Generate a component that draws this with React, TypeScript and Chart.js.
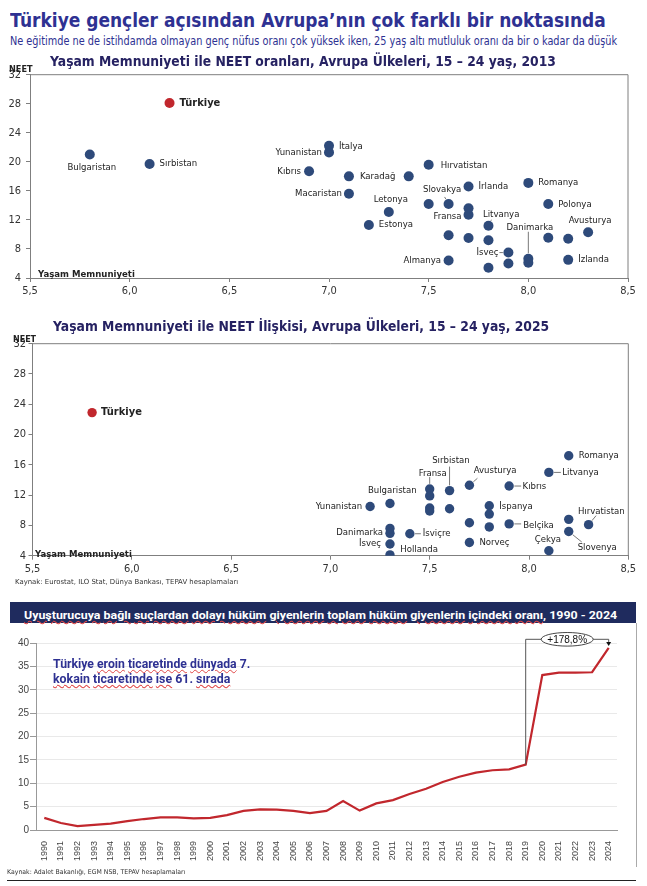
import React, { useEffect, useLayoutEffect, useRef, useState } from 'react';
import { Chart, registerables } from 'chart.js';
Chart.register(...registerables);

// ---------- DATA ----------
const names2013 = ['Türkiye', 'Bulgaristan', 'Sırbistan', 'Kıbrıs', 'Yunanistan', 'İtalya', 'Macaristan', 'Karadağ', '', 'Hırvatistan', 'Letonya', 'Estonya', '', 'Slovakya', 'İrlanda', 'Romanya', 'Polonya', 'Fransa', '', 'Litvanya', 'Avusturya', 'Danimarka', '', '', '', '', '', '', 'İsveç', '', 'Almanya', '', 'İzlanda'];
const satisfaction2013 = [6.2, 5.8, 6.1, 6.9, 7.0, 7.0, 7.1, 7.1, 7.4, 7.5, 7.3, 7.2, 7.5, 7.6, 7.7, 8.0, 8.1, 7.7, 7.7, 7.8, 8.3, 8.0, 8.0, 8.1, 8.2, 7.6, 7.7, 7.8, 7.9, 7.9, 7.6, 7.8, 8.2];
const neet2013 = [28.1, 21.0, 19.7, 18.7, 21.3, 22.2, 15.6, 18.0, 18.0, 19.6, 13.1, 11.3, 14.2, 14.2, 16.6, 17.1, 14.2, 12.7, 13.6, 11.2, 10.3, 6.65, 6.1, 9.55, 9.4, 9.9, 9.5, 9.2, 7.5, 6.0, 6.4, 5.4, 6.5];

const names2025 = ['Türkiye', 'Yunanistan', 'Bulgaristan', 'Fransa', '', '', '', 'Sırbistan', '', 'Avusturya', 'Kıbrıs', 'Romanya', 'Litvanya', 'İspanya', '', '', '', 'Belçika', 'Hırvatistan', '', 'Slovenya', 'Çekya', 'Norveç', 'İsviçre', 'Danimarka', '', 'İsveç', 'Hollanda'];
const satisfaction2025 = [5.8, 7.2, 7.3, 7.5, 7.5, 7.5, 7.5, 7.6, 7.6, 7.7, 7.9, 8.2, 8.1, 7.8, 7.8, 7.7, 7.8, 7.9, 8.3, 8.2, 8.2, 8.1, 7.7, 7.4, 7.3, 7.3, 7.3, 7.3];
const neet2025 = [22.9, 10.5, 10.9, 12.8, 11.9, 10.3, 9.9, 12.6, 10.2, 13.3, 13.2, 17.2, 15.0, 10.6, 9.5, 8.35, 7.8, 8.2, 8.1, 8.8, 7.2, 4.65, 5.75, 6.9, 6.95, 7.6, 5.55, 4.1];

const years = ['1990', '1991', '1992', '1993', '1994', '1995', '1996', '1997', '1998', '1999', '2000', '2001', '2002', '2003', '2004', '2005', '2006', '2007', '2008', '2009', '2010', '2011', '2012', '2013', '2014', '2015', '2016', '2017', '2018', '2019', '2020', '2021', '2022', '2023', '2024'];
const drugShare = [2.6, 1.5, 0.85, 1.1, 1.35, 1.9, 2.35, 2.7, 2.7, 2.5, 2.6, 3.2, 4.1, 4.4, 4.35, 4.1, 3.6, 4.1, 6.2, 4.15, 5.7, 6.4, 7.7, 8.85, 10.3, 11.4, 12.3, 12.8, 13.0, 14.0, 33.2, 33.7, 33.7, 33.8, 39.0];
const bracketFrom = '2019';
const bracketTo = '2024';
const bracketLabel = '+178,8%';
const HIGHLIGHT = 'Türkiye';

// ---------- LABEL LAYOUT (pixel offsets from each point) ----------
type P = { a: 'l' | 'r' | 'c'; dx: number; dy: number; lx?: number; ly?: number } | null;
const place2013: P[] = [
  { a: 'r', dx: 10, dy: 0 },
  { a: 'c', dx: 2, dy: 12.7 },
  { a: 'r', dx: 10, dy: 0 },
  { a: 'l', dx: -8, dy: 0 },
  { a: 'l', dx: -7, dy: 0.6 },
  { a: 'r', dx: 10, dy: 1 },
  { a: 'l', dx: -7, dy: 0 },
  { a: 'r', dx: 11, dy: 0 },
  null,
  { a: 'r', dx: 12, dy: 1 },
  { a: 'c', dx: 2, dy: -12 },
  { a: 'r', dx: 10, dy: 0 },
  null,
  { a: 'c', dx: -6.5, dy: -14, lx: -4, ly: -7 },
  { a: 'r', dx: 10, dy: 0 },
  { a: 'r', dx: 10, dy: 0 },
  { a: 'r', dx: 10, dy: 0.5 },
  { a: 'l', dx: -7, dy: 2 },
  null,
  { a: 'c', dx: 12.7, dy: -11, lx: 3, ly: -6 },
  { a: 'c', dx: 2, dy: -11.6 },
  { a: 'c', dx: 1.5, dy: -31.4, lx: 0, ly: -27 },
  null, null, null, null, null, null,
  { a: 'l', dx: -10, dy: 0, lx: -9, ly: 0 },
  null,
  { a: 'l', dx: -7.6, dy: 0 },
  null,
  { a: 'r', dx: 10, dy: 0 },
];
const place2025: P[] = [
  { a: 'r', dx: 9, dy: 0 },
  { a: 'l', dx: -8, dy: 0 },
  { a: 'c', dx: 2.3, dy: -13.3 },
  { a: 'c', dx: 3, dy: -16, lx: 0, ly: -12 },
  null, null, null,
  { a: 'c', dx: 1.4, dy: -29.6, lx: 0, ly: -24 },
  null,
  { a: 'c', dx: 25.7, dy: -14.3, lx: 8, ly: -7 },
  { a: 'r', dx: 13.4, dy: 0, lx: 12, ly: 0 },
  { a: 'r', dx: 10, dy: 0 },
  { a: 'r', dx: 13.4, dy: 0.5, lx: 12, ly: 0 },
  { a: 'r', dx: 10, dy: 1 },
  null, null, null,
  { a: 'r', dx: 14, dy: 1.3, lx: 12, ly: 0 },
  { a: 'c', dx: 12.7, dy: -13.3, lx: 7.5, ly: -9 },
  null,
  { a: 'c', dx: 28.5, dy: 16.4, lx: 13, ly: 10.5 },
  { a: 'c', dx: -1, dy: -11.4 },
  { a: 'r', dx: 10, dy: 0 },
  { a: 'r', dx: 13, dy: 0, lx: 11, ly: 0 },
  { a: 'l', dx: -7, dy: -0.6 },
  null,
  { a: 'l', dx: -9, dy: 0 },
  { a: 'r', dx: 10.3, dy: -5.7 },
];

// ---------- STYLE ----------
const FONT_T = '"DejaVu Sans", Verdana, sans-serif';
const FONT_C = '"DejaVu Sans Condensed", "DejaVu Sans", sans-serif';
const FONT_A = '"Liberation Sans", Arial, sans-serif';
const DOT = '#2e4a7a';
const RED = '#c1272d';
const TITLE = '#2e3192';
const NAVY = '#262262';

const wavy: React.CSSProperties = {
  textDecorationLine: 'underline',
  textDecorationStyle: 'wavy',
  textDecorationColor: '#e04848',
  textDecorationThickness: '0.8px',
  textUnderlineOffset: '1px',
};
const U = ({ children }: { children: React.ReactNode }) => <span style={wavy}>{children}</span>;

function Fit({ left, top, width, size, bold, color, family, children }: any) {
  const ref = useRef<HTMLSpanElement>(null);
  const [s, setS] = useState(1);
  useLayoutEffect(() => {
    const measure = () => {
      const w = ref.current ? ref.current.offsetWidth : 0;
      if (w) setS(width / w);
    };
    measure();
    if ((document as any).fonts && (document as any).fonts.ready) (document as any).fonts.ready.then(measure);
  }, [width]);
  return (
    <div style={{ position: 'absolute', left, top, whiteSpace: 'nowrap', lineHeight: 1 }}>
      <span
        ref={ref}
        style={{
          display: 'inline-block',
          transform: `scaleX(${s})`,
          transformOrigin: 'left top',
          fontSize: size,
          fontWeight: bold ? 700 : 400,
          color,
          fontFamily: family || FONT_T,
          lineHeight: 1,
        }}
      >
        {children}
      </span>
    </div>
  );
}

function makeLabelPlugin(names: string[], place: P[], r: number) {
  return {
    id: 'ptlabels',
    afterDatasetsDraw(chart: any) {
      const ctx = chart.ctx;
      const meta = chart.getDatasetMeta(0);
      ctx.save();
      meta.data.forEach((el: any, i: number) => {
        const n = names[i];
        const p = place[i];
        if (!n || !p) return;
        const x = el.x, y = el.y;
        if (p.lx !== undefined) {
          const lx = p.lx, ly = p.ly || 0;
          const d = Math.hypot(lx, ly) || 1;
          ctx.beginPath();
          ctx.moveTo(x + lx, y + ly);
          ctx.lineTo(x + (lx / d) * (r + 0.5), y + (ly / d) * (r + 0.5));
          ctx.strokeStyle = '#555';
          ctx.lineWidth = 0.8;
          ctx.stroke();
        }
        ctx.font = n === HIGHLIGHT ? `bold 11px ${FONT_C}` : `9.5px ${FONT_C}`;
        ctx.fillStyle = '#222';
        ctx.textAlign = p.a === 'r' ? 'left' : p.a === 'l' ? 'right' : 'center';
        ctx.textBaseline = 'middle';
        ctx.fillText(n, x + p.dx, y + p.dy);
      });
      ctx.restore();
    },
  };
}

const framePlugin = {
  id: 'frame',
  afterDraw(chart: any) {
    const { left, top, right, bottom } = chart.chartArea;
    const ctx = chart.ctx;
    ctx.save();
    ctx.strokeStyle = '#7f7f7f';
    ctx.lineWidth = 1;
    ctx.beginPath();
    ctx.moveTo(left, top);
    ctx.lineTo(right, top);
    ctx.lineTo(right, bottom);
    ctx.stroke();
    ctx.restore();
  },
};

function scatterConfig(names: string[], xs: number[], ys: number[], place: P[], r: number, lay: { top: number; right: number; yw: number; xh: number; ypad: number }) {
  return {
    type: 'scatter' as const,
    data: {
      datasets: [
        {
          data: xs.map((x, i) => ({ x, y: ys[i] })),
          pointRadius: r,
          pointHoverRadius: r,
          pointBorderWidth: 0,
          pointBackgroundColor: names.map((n) => (n === HIGHLIGHT ? RED : DOT)),
          pointBorderColor: names.map((n) => (n === HIGHLIGHT ? RED : DOT)),
        },
      ],
    },
    options: {
      responsive: false,
      animation: false as const,
      events: [],
      layout: { padding: { top: lay.top, right: lay.right, left: 0, bottom: 0 } },
      plugins: { legend: { display: false }, tooltip: { enabled: false }, title: { display: false } },
      scales: {
        x: {
          type: 'linear' as const,
          min: 5.5,
          max: 8.5,
          ticks: {
            stepSize: 0.5,
            callback: (v: any) => Number(v).toFixed(1).replace('.', ','),
            font: { family: FONT_C, size: 11 },
            color: '#333',
            padding: 3,
            maxRotation: 0,
          },
          grid: { display: true, drawOnChartArea: false, drawTicks: true, tickLength: 4, color: '#7f7f7f' },
          border: { display: true, color: '#7f7f7f', width: 1 },
          afterFit: (s: any) => { s.height = lay.xh; },
        },
        y: {
          type: 'linear' as const,
          min: 4,
          max: 32,
          ticks: { stepSize: 4, font: { family: FONT_C, size: 11 }, color: '#333', padding: lay.ypad },
          grid: { display: true, drawOnChartArea: false, drawTicks: true, tickLength: 4, color: '#7f7f7f' },
          border: { display: true, color: '#7f7f7f', width: 1 },
          afterFit: (s: any) => { s.width = lay.yw; },
        },
      },
    },
    plugins: [framePlugin, makeLabelPlugin(names, place, r)],
  };
}

const bracketPlugin = {
  id: 'bracket',
  afterDatasetsDraw(chart: any) {
    const xs = chart.scales.x, ys = chart.scales.y;
    const i0 = years.indexOf(bracketFrom), i1 = years.indexOf(bracketTo);
    const x0 = xs.getPixelForValue(i0), x1 = xs.getPixelForValue(i1);
    const y0 = ys.getPixelForValue(drugShare[i0]);
    const y1 = ys.getPixelForValue(drugShare[i1]);
    const top = ys.getPixelForValue(ys.max) - 4;
    const ctx = chart.ctx;
    ctx.save();
    ctx.strokeStyle = '#555';
    ctx.lineWidth = 1;
    ctx.beginPath();
    ctx.moveTo(x0, y0);
    ctx.lineTo(x0, top);
    ctx.lineTo(x1, top);
    ctx.lineTo(x1, y1 - 6);
    ctx.stroke();
    ctx.fillStyle = '#111';
    ctx.beginPath();
    ctx.moveTo(x1 - 2.5, y1 - 6);
    ctx.lineTo(x1 + 2.5, y1 - 6);
    ctx.lineTo(x1, y1 - 2);
    ctx.closePath();
    ctx.fill();
    const cx = (x0 + x1) / 2;
    ctx.beginPath();
    ctx.ellipse(cx, top, 26, 6.8, 0, 0, Math.PI * 2);
    ctx.fillStyle = '#fff';
    ctx.fill();
    ctx.strokeStyle = '#333';
    ctx.lineWidth = 0.9;
    ctx.stroke();
    ctx.fillStyle = '#111';
    ctx.font = `10px ${FONT_A}`;
    ctx.textAlign = 'center';
    ctx.textBaseline = 'middle';
    ctx.fillText(bracketLabel, cx, top + 0.5);
    ctx.restore();
  },
};

export default function App() {
  const c1 = useRef<HTMLCanvasElement>(null);
  const c2 = useRef<HTMLCanvasElement>(null);
  const c3 = useRef<HTMLCanvasElement>(null);

  useEffect(() => {
    const ch1 = new Chart(c1.current!, scatterConfig(names2013, satisfaction2013, neet2013, place2013, 5, { top: 14.7, right: 19, yw: 30, xh: 32, ypad: 5 }) as any);
    const ch2 = new Chart(c2.current!, scatterConfig(names2025, satisfaction2025, neet2025, place2025, 4.7, { top: 23.7, right: 18.7, yw: 32.5, xh: 29.3, ypad: 2.5 }) as any);
    const ch3 = new Chart(c3.current!, {
      type: 'line',
      data: {
        labels: years,
        datasets: [
          {
            data: drugShare,
            borderColor: RED,
            borderWidth: 2.2,
            pointRadius: 0,
            tension: 0,
            fill: false,
          },
        ],
      },
      options: {
        responsive: false,
        animation: false,
        events: [],
        layout: { padding: { top: 13.3, right: 30, left: 0, bottom: 0 } },
        plugins: { legend: { display: false }, tooltip: { enabled: false } },
        scales: {
          x: {
            type: 'category',
            offset: true,
            grid: { display: false },
            border: { display: true, color: '#999' },
            ticks: { minRotation: 90, maxRotation: 90, autoSkip: false, font: { family: FONT_A, size: 9 }, color: '#444', padding: 3 },
            afterFit: (s: any) => { s.height = 35; },
          },
          y: {
            min: 0,
            max: 40,
            ticks: { stepSize: 5, font: { family: FONT_A, size: 10 }, color: '#444', padding: 1 },
            grid: { color: '#e9e9e9', tickColor: '#999', tickLength: 6, drawTicks: true },
            border: { display: true, color: '#999' },
            afterFit: (s: any) => { s.width = 36; },
          },
        },
      },
      plugins: [bracketPlugin],
    } as any);
    return () => {
      ch1.destroy();
      ch2.destroy();
      ch3.destroy();
    };
  }, []);

  return (
    <div style={{ position: 'absolute', left: 0, top: 0, width: 647, height: 886, background: '#fff', overflow: 'hidden' }}>
      <Fit left={10} top={10.6} width={596} size={19} bold color={TITLE}>Türkiye gençler açısından Avrupa’nın çok farklı bir noktasında</Fit>
      <Fit left={10} top={32} width={607} size={11.4} color={TITLE}>Ne eğitimde ne de istihdamda olmayan genç nüfus oranı çok yüksek iken, 25 yaş altı mutluluk oranı da bir o kadar da düşük</Fit>

      <canvas ref={c1} width={647} height={250} style={{ position: 'absolute', left: 0, top: 60, width: 647, height: 250 }} />
      <Fit left={50} top={53.4} width={506} size={13.7} bold color={NAVY}>Yaşam Memnuniyeti ile NEET oranları, Avrupa Ülkeleri, 15 – 24 yaş, 2013</Fit>
      <Fit left={9} top={59} width={24} size={8.5} bold color="#222">NEET</Fit>
      <Fit left={37.5} top={264.4} width={97} size={9} bold color="#222">Yaşam Memnuniyeti</Fit>

      <canvas ref={c2} width={647} height={265} style={{ position: 'absolute', left: 0, top: 320, width: 647, height: 265 }} />
      <Fit left={53.3} top={318} width={496} size={13.5} bold color={NAVY}>Yaşam Memnuniyeti ile NEET İlişkisi, Avrupa Ülkeleri, 15 – 24 yaş, 2025</Fit>
      <Fit left={13} top={328.5} width={23.5} size={8.5} bold color="#222">NEET</Fit>
      <Fit left={35} top={543.9} width={97} size={9} bold color="#222">Yaşam Memnuniyeti</Fit>
      <Fit left={15} top={570.6} width={223} size={7} color="#333">Kaynak: Eurostat, ILO Stat, Dünya Bankası, TEPAV hesaplamaları</Fit>

      <div style={{ position: 'absolute', left: 10, top: 601.7, width: 626, height: 21.6, background: '#1f2b5e' }} />
      <Fit left={24.3} top={606} width={593} size={10.8} bold color="#fff" family="Roboto, sans-serif">
        <U>Uyuşturucuya</U> <U>bağlı</U> <U>suçlardan</U> <U>dolayı</U> <U>hüküm</U> <U>giyenlerin</U> <U>toplam</U> <U>hüküm</U> <U>giyenlerin</U> <U>içindeki</U> <U>oranı</U>, 1990 - 2024
      </Fit>
      <div style={{ position: 'absolute', left: 635.5, top: 623, width: 1, height: 244, background: '#aaa' }} />

      <canvas ref={c3} width={647} height={235} style={{ position: 'absolute', left: 0, top: 630, width: 647, height: 235 }} />
      <Fit left={52.7} top={655} width={197} size={12.3} bold color={TITLE} family="Roboto, sans-serif">
        Türkiye <U>eroin</U> <U>ticaretinde</U> <U>dünyada</U> 7.
      </Fit>
      <Fit left={52.7} top={670} width={177} size={12.3} bold color={TITLE} family="Roboto, sans-serif">
        <U>kokain</U> <U>ticaretinde</U> <U>ise</U> 61. <U>sırada</U>
      </Fit>
      <Fit left={6.7} top={860.5} width={178} size={6.5} color="#333">Kaynak: Adalet Bakanlığı, EGM NSB, TEPAV hesaplamaları</Fit>
      <div style={{ position: 'absolute', left: 7, top: 879.8, width: 629, height: 1.5, background: '#222' }} />
    </div>
  );
}
